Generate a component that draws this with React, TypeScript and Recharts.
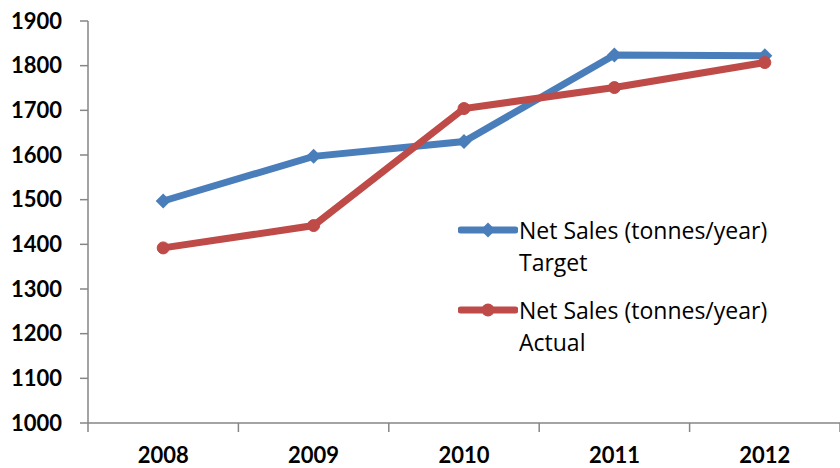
import { Line, LineChart, Legend, XAxis, YAxis } from "recharts"

const years = ["2008", "2009", "2010", "2011", "2012"]
const target = [1497, 1597, 1630, 1824, 1822]
const actual = [1392, 1442, 1704, 1751, 1807]
const yTicks = [1000, 1100, 1200, 1300, 1400, 1500, 1600, 1700, 1800, 1900]

const data = years.map((year, i) => ({ year, target: target[i], actual: actual[i] }))

const BLUE = "#4A7EBB"
const RED = "#BE4B48"
const AXIS = "#868686"
const FONT = "Lato, 'Open Sans', sans-serif"
const LEGEND_FONT = "'Open Sans', Lato, sans-serif"

const W = 840
const H = 468
const LEFT = 88
const BAND = (W - LEFT) / years.length

function XTick(props: any) {
  const { x, y, payload, index } = props
  return (
    <g>
      <line x1={x - BAND / 2} x2={x - BAND / 2} y1={y} y2={y + 9} stroke={AXIS} strokeWidth={1.5} />
      {index === years.length - 1 && (
        <line x1={x + BAND / 2} x2={x + BAND / 2} y1={y} y2={y + 9} stroke={AXIS} strokeWidth={1.5} />
      )}
      <text x={x} y={y + 32} dy="0.355em" textAnchor="middle" fontFamily={FONT} fontWeight={700} fontSize={22} fill="#000">
        {payload.value}
      </text>
    </g>
  )
}

function Diamond(props: any) {
  const { cx, cy } = props
  if (cx == null || cy == null) return null
  const s = 7.5
  return <path d={`M${cx},${cy - s}L${cx + s},${cy}L${cx},${cy + s}L${cx - s},${cy}Z`} fill={BLUE} />
}

function LegendContent() {
  const items = [
    { color: BLUE, label: "Target", marker: "diamond" },
    { color: RED, label: "Actual", marker: "circle" },
  ]
  return (
    <div style={{ fontFamily: LEGEND_FONT, fontSize: 23, color: "#000", lineHeight: "32px", textAlign: "left" }}>
      {items.map((it) => (
        <div key={it.label} style={{ display: "flex", alignItems: "flex-start", marginBottom: 16 }}>
          <svg width={60} height={32} style={{ flex: "none" }}>
            <line x1={3} x2={57} y1={16} y2={16} stroke={it.color} strokeWidth={7} strokeLinecap="round" />
            {it.marker === "diamond" ? (
              <path d="M30,8.5L37.5,16L30,23.5L22.5,16Z" fill={it.color} />
            ) : (
              <circle cx={30} cy={16} r={6.5} fill={it.color} />
            )}
          </svg>
          <div style={{ marginLeft: 1 }}>
            Net Sales (tonnes/year)
            <br />
            {it.label}
          </div>
        </div>
      ))}
    </div>
  )
}

export default function App() {
  return (
    <div style={{ position: "absolute", left: 0, top: 0, width: W, height: H, background: "#fff" }}>
      <LineChart width={W} height={H} data={data} margin={{ top: 21, right: 0, left: 0, bottom: 0 }}>
        <XAxis
          dataKey="year"
          height={45}
          padding={{ left: BAND / 2, right: BAND / 2 }}
          axisLine={{ stroke: AXIS, strokeWidth: 1.5 }}
          tickLine={false}
          tickSize={0}
          tickMargin={0}
          tick={<XTick />}
          interval={0}
        />
        <YAxis
          width={LEFT}
          domain={[1000, 1900]}
          ticks={yTicks}
          interval={0}
          axisLine={{ stroke: AXIS, strokeWidth: 1.5 }}
          tickLine={{ stroke: AXIS, strokeWidth: 1.5 }}
          tickSize={8}
          tickMargin={18}
          tick={{ fill: "#000", fontFamily: FONT, fontWeight: 700, fontSize: 22 }}
        />
        <Legend
          layout="vertical"
          align="center"
          verticalAlign="middle"
          content={<LegendContent />}
          wrapperStyle={{ position: "absolute", left: 458, top: 214, width: 370 }}
        />
        <Line
          dataKey="target"
          stroke={BLUE}
          strokeWidth={7}
          dot={<Diamond />}
          activeDot={false}
          isAnimationActive={false}
        />
        <Line
          dataKey="actual"
          stroke={RED}
          strokeWidth={7}
          dot={{ r: 6, fill: RED, stroke: RED, strokeWidth: 1 }}
          activeDot={false}
          isAnimationActive={false}
        />
      </LineChart>
    </div>
  )
}
